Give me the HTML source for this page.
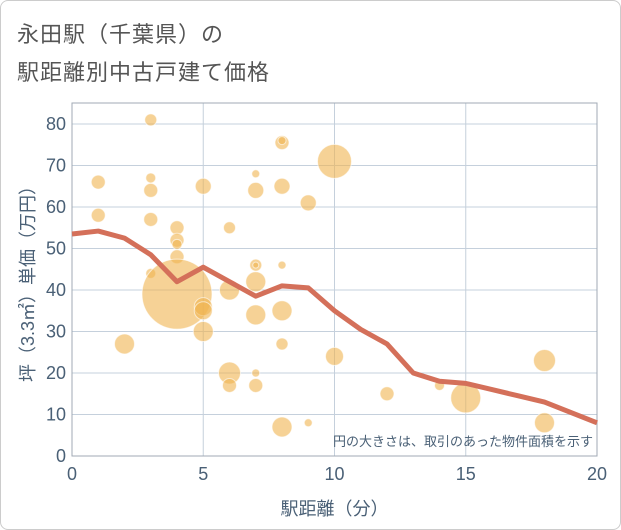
<!DOCTYPE html>
<html><head><meta charset="utf-8"><style>
body{margin:0;background:#fff;}
#wrap{position:relative;width:619px;height:528px;border:1px solid #ccc;border-radius:8px;overflow:hidden;background:#fff;font-family:"Liberation Sans","Noto Sans CJK JP",sans-serif;}
.title{position:absolute;left:16px;font-size:22px;color:#555;letter-spacing:1px;}
</style></head><body>
<div id="wrap">
<div class="title" style="top:16px">永田駅（千葉県）の</div>
<div class="title" style="top:54px">駅距離別中古戸建て価格</div>
<svg id="chart" width="621" height="530" style="position:absolute;left:-1px;top:-1px"></svg>
</div>
<script>
const xTicks=[0,5,10,15,20];
const yTicks=[0,10,20,30,40,50,60,70,80];
const bubbleX=[3,1,3,3,1,3,4,4,4,4,3,4,5,5,5,2,5,6,7,7,8,8,8,9,10,6,7,7,8,7,7,8,8,6,6,7,7,8,9,10,12,14,15,18,18];
const bubbleY=[81,66,67,64,58,57,55,52,51,48,44,39,36,35,30,27,65,55,68,64,75.5,76,65,61,71,40,46,46,46,42,34,35,27,20,17,20,17,7,8,24,15,17,14,23,8];
const bubbleR=[6,7,5,7,7,7,7,7,5,7,5,35,9,9,10,10,8,6,4,8,7,4,8,8,17,10,6,3,4,10,10,10,6,11,7,4,7,10,4,9,7,5,15,11,10];
const lineX=[0,1,2,3,4,5,6,7,8,9,10,11,12,13,14,15,16,17,18,19,20];
const lineY=[53.5,54.2,52.5,48.5,42,45.5,42,38.5,41,40.5,35,30.5,27,20,18,17.5,16,14.5,13,10.5,8];
const L=72,R=597,T=103,B=456;
const sx=v=>L+(v/20)*(R-L);
const sy=v=>B-(v/80)*(456-124);
const svg=document.getElementById('chart');
const NS='http://www.w3.org/2000/svg';
function mk(t,a){const e=document.createElementNS(NS,t);for(const k in a)e.setAttribute(k,a[k]);svg.appendChild(e);return e;}
yTicks.forEach(v=>{const e=mk('line',{x1:L,x2:R,y1:sy(v),y2:sy(v),stroke:'#c5d0dc','stroke-width':1});


const t=mk('text',{x:L-6,y:sy(v)+6,'text-anchor':'end','font-size':18,fill:'#4a6076'});t.textContent=v;

});
xTicks.forEach(v=>{const e=mk('line',{x1:sx(v),x2:sx(v),y1:T,y2:B,stroke:'#c5d0dc','stroke-width':1});


const t=mk('text',{x:sx(v),y:B+24,'text-anchor':'middle','font-size':18,fill:'#4a6076'});t.textContent=v;

});
const fr=mk('rect',{x:L,y:T,width:R-L,height:B-T,fill:'none',stroke:'#a0aab4','stroke-width':1});


bubbleX.forEach((x,i)=>{const c=mk('circle',{cx:sx(x),cy:sy(bubbleY[i]),r:bubbleR[i],fill:'rgba(240,180,80,0.6)',stroke:'#fff','stroke-opacity':0.6,'stroke-width':1});

});
const p=mk('polyline',{points:lineX.map((x,i)=>sx(x)+','+sy(lineY[i])).join(' '),fill:'none',stroke:'#d4705a','stroke-width':5,'stroke-linejoin':'round'});


const n=mk('text',{x:R-4,y:B-10,'text-anchor':'end','font-size':13,fill:'#4a6076'});n.textContent='円の大きさは、取引のあった物件面積を示す';


const xt=mk('text',{x:(L+R)/2,y:515,'text-anchor':'middle','font-size':18,fill:'#4a6076'});xt.textContent='駅距離（分）';


const yt=mk('text',{x:0,y:0,'text-anchor':'middle','font-size':18,fill:'#4a6076',transform:'translate(34,'+((T+B)/2)+') rotate(-90)'});yt.textContent='坪（3.3㎡）単価（万円）';


</script>
</body></html>
